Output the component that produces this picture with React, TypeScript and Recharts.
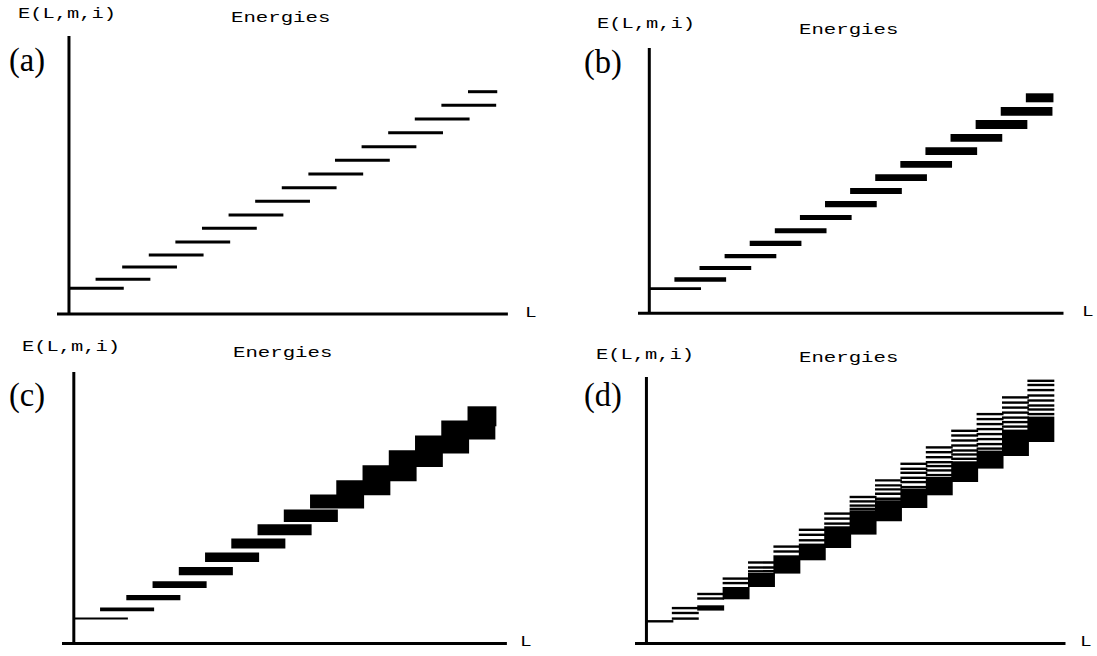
import React from "react";
import { ComposedChart, XAxis, YAxis, ReferenceArea, ReferenceLine } from "recharts";

// angular momentum L where each level starts (each level is drawn over two L units)
const levelL = [0, 1, 2, 3, 4, 5, 6, 7, 8, 9, 10, 11, 12, 13, 14, 15];

// (a) single energy per level
const energyA = [2.57, 3.47, 4.7, 5.9, 7.2, 8.57, 9.9, 11.27, 12.63, 14.0, 15.37, 16.73, 18.13, 19.5, 20.87, 22.23];

// (b) split levels, low / high edge of each band
const lowB = [2.33, 3.16, 4.33, 5.5, 6.73, 8.0, 9.33, 10.6, 11.93, 13.23, 14.56, 15.83, 17.16, 18.43, 19.76, 21.1];
const highB = [2.6, 3.6, 4.73, 5.93, 7.26, 8.5, 9.83, 11.23, 12.53, 13.9, 15.23, 16.6, 17.93, 19.33, 20.63, 22.0];

// (c) wider splitting
const lowC = [2.4, 3.23, 4.33, 5.56, 6.83, 8.16, 9.5, 10.83, 12.16, 13.5, 14.83, 16.23, 17.66, 19.0, 20.4, 21.73];
const highC = [2.6, 3.6, 4.86, 6.23, 7.66, 9.1, 10.5, 11.93, 13.4, 14.9, 16.33, 17.83, 19.33, 20.8, 22.3, 23.73];

// (d) per L column: separate sublevels on top, dense block underneath
const stripesD = [
  [2.23],
  [3.55, 3.06, 2.5],
  [4.96, 4.51],
  [6.5, 6.05],
  [8.11, 7.61, 7.23],
  [9.7, 9.21],
  [11.38, 10.88, 10.33],
  [13.0, 12.5, 12.0],
  [14.66, 14.22, 13.8, 13.47],
  [16.32, 15.82, 15.42, 14.98, 14.48],
  [17.98, 17.48, 17.08, 16.58, 16.15, 15.65],
  [19.62, 19.14, 18.64, 18.14, 17.75, 17.32, 16.85],
  [21.28, 20.81, 20.31, 19.81, 19.31, 18.91, 18.48],
  [22.95, 22.45, 21.95, 21.45, 20.95, 20.45, 19.95, 19.5],
  [24.62, 24.1, 23.6, 23.1, 22.6, 22.15, 21.7],
  [26.28, 25.86, 25.35, 24.81, 24.31, 23.81, 23.41, 22.95],
];
const blockLowD = [null, null, 3.3, 4.43, 5.66, 7.0, 8.33, 9.56, 10.9, 12.23, 13.56, 14.83, 16.16, 17.5, 18.76, 20.16];
const blockHighD = [null, null, 3.83, 5.66, 7.06, 8.83, 10.0, 11.73, 13.33, 14.33, 15.5, 16.66, 18.23, 19.3, 21.4, 22.7];

const L_MIN = -0.45;
const L_MAX = 16.5;
const L_END = 16.1;
const BAR_SPAN = 2.06;
const COL_SPAN = 1.06;
const LINE_HALF = 0.15;
const STRIPE_HALF = 0.12;

const mono = '"Liberation Mono", "DejaVu Sans Mono", monospace';
const serif = '"Liberation Serif", "DejaVu Serif", serif';

function Tag({ text, x, cy, size, font, sx = 1, sy = 1 }: any) {
  return (
    <div
      style={{
        position: "absolute",
        left: x,
        top: cy - size,
        height: size * 2,
        lineHeight: `${size * 2}px`,
        fontFamily: font,
        fontSize: size,
        color: "#000",
        whiteSpace: "nowrap",
        transform: `scale(${sx}, ${sy})`,
        transformOrigin: "left center",
      }}
    >
      {text}
    </div>
  );
}

function rect(key: string, x1: number, x2: number, y1: number, y2: number) {
  return (
    <ReferenceArea
      key={key}
      x1={x1}
      x2={Math.min(x2, L_END)}
      y1={y1}
      y2={y2}
      fill="#000"
      fillOpacity={1}
      stroke="none"
      ifOverflow="visible"
    />
  );
}

function Panel({ frame, letter, txt, marks }: any) {
  const { left, top, right, axisY } = frame;
  const yMax = (axisY - top) / 10;
  return (
    <>
      <div style={{ position: "absolute", left, top: top - 2 }}>
        <ComposedChart
          width={right - left + 2}
          height={axisY - top + 5}
          margin={{ top: 2, right: 2, bottom: 0, left: 0 }}
        >
          <XAxis
            type="number"
            dataKey="L"
            domain={[L_MIN, L_MAX]}
            allowDataOverflow
            tick={false}
            tickLine={false}
            height={3}
            axisLine={{ stroke: "#000", strokeWidth: 3 }}
          />
          <YAxis type="number" domain={[0, yMax]} allowDataOverflow hide />
          <ReferenceLine x={0} stroke="#000" strokeWidth={3} ifOverflow="visible" />
          {marks}
        </ComposedChart>
      </div>
      <Tag text="E(L,m,i)" x={txt.ex} cy={txt.ey} size={15} font={mono} sx={1.36} />
      <Tag text="Energies" x={txt.nx} cy={txt.ny} size={15} font={mono} sx={1.38} />
      <Tag text={`(${letter})`} x={txt.px} cy={txt.py} size={31} font={serif} sx={1.05} sy={1.1} />
      <Tag text="L" x={txt.lx} cy={txt.ly} size={15} font={mono} sx={1.3} />
    </>
  );
}

export default function App() {
  const marksA = levelL.map((L, i) =>
    rect(`a${i}`, L, L + BAR_SPAN, energyA[i] - LINE_HALF, energyA[i] + LINE_HALF)
  );
  const marksB = levelL.map((L, i) => rect(`b${i}`, L, L + BAR_SPAN, lowB[i], highB[i]));
  const marksC = levelL.map((L, i) => rect(`c${i}`, L, L + BAR_SPAN, lowC[i], highC[i]));
  const marksD: any[] = [];
  levelL.forEach((L, i) => {
    if (blockLowD[i] !== null) {
      marksD.push(rect(`db${i}`, L, L + COL_SPAN, blockLowD[i] as number, blockHighD[i] as number));
    }
    stripesD[i].forEach((e, j) => {
      marksD.push(rect(`ds${i}_${j}`, L, L + COL_SPAN, e - STRIPE_HALF, e + STRIPE_HALF));
    });
  });

  return (
    <div
      style={{
        position: "absolute",
        left: 0,
        top: 0,
        width: 1097,
        height: 656,
        background: "#fff",
        overflow: "hidden",
      }}
    >
      <Panel
        frame={{ left: 57.4, top: 36, right: 508.3, axisY: 314 }}
        letter="a"
        txt={{ ex: 17.6, ey: 15, nx: 231, ny: 18.5, px: 8.6, py: 60, lx: 525, ly: 314 }}
        marks={marksA}
      />
      <Panel
        frame={{ left: 637.8, top: 48, right: 1063.3, axisY: 313.3 }}
        letter="b"
        txt={{ ex: 597, ey: 25, nx: 799, ny: 31, px: 583.5, py: 62, lx: 1082, ly: 313 }}
        marks={marksB}
      />
      <Panel
        frame={{ left: 62.4, top: 371.7, right: 507.3, axisY: 643.3 }}
        letter="c"
        txt={{ ex: 22.4, ey: 348, nx: 233, ny: 353.5, px: 8.6, py: 395, lx: 520, ly: 643 }}
        marks={marksC}
      />
      <Panel
        frame={{ left: 635.3, top: 376.7, right: 1065.8, axisY: 643.3 }}
        letter="d"
        txt={{ ex: 596, ey: 356, nx: 799, ny: 359, px: 583.5, py: 395, lx: 1080, ly: 643 }}
        marks={marksD}
      />
    </div>
  );
}
